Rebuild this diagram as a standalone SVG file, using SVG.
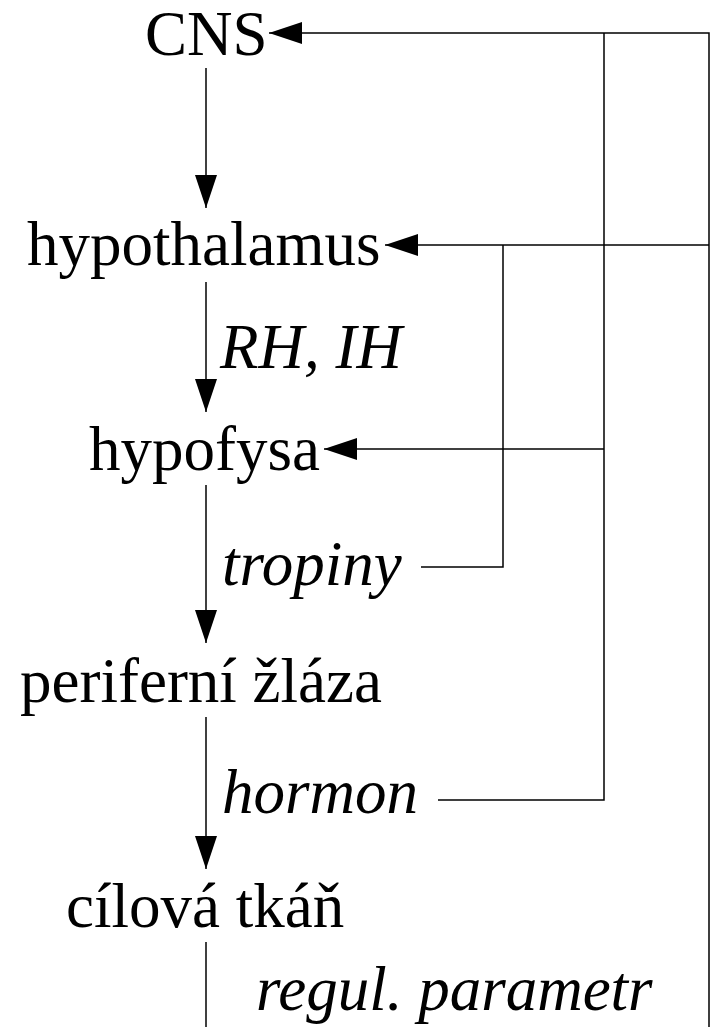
<svg xmlns="http://www.w3.org/2000/svg" width="710" height="1027" viewBox="0 0 710 1027">
<style>
.n{font-family:"Liberation Serif","Times New Roman",serif;font-size:63px;fill:#000}
.l{font-family:"Liberation Serif","Times New Roman",serif;font-size:63px;font-style:italic;fill:#000}
.c{fill:none;stroke:#000;stroke-width:1.5}
</style>
<defs>
<marker id="ah" viewBox="0 0 33 22" markerWidth="33" markerHeight="22" refX="33" refY="11" orient="auto" markerUnits="userSpaceOnUse">
<path d="M0,0 L33,11 L0,22 z" fill="#000"/>
</marker>
</defs>
<rect width="710" height="1027" fill="#fff"/>
<g id="connectors">
<path class="c" d="M206,68 V208" marker-end="url(#ah)"/>
<path class="c" d="M206,282 V412" marker-end="url(#ah)"/>
<path class="c" d="M206,485 V643" marker-end="url(#ah)"/>
<path class="c" d="M206,717 V869" marker-end="url(#ah)"/>
<path class="c" d="M206,942 V1027"/>
<path class="c" d="M709,1027 V33 H269" marker-end="url(#ah)"/>
<path class="c" d="M709,245 H385" marker-end="url(#ah)"/>
<path class="c" d="M438,800 H604 V33"/>
<path class="c" d="M604,449 H324" marker-end="url(#ah)"/>
<path class="c" d="M421,567 H503 V245"/>
</g>
<g id="cns"><text class="n" x="145" y="55">CNS</text></g>
<g id="hypothalamus"><text class="n" x="27" y="265">hypothalamus</text></g>
<g id="label-rhih"><text class="l" x="220" y="368">RH, IH</text></g>
<g id="hypofysa"><text class="n" x="89" y="470">hypofysa</text></g>
<g id="label-tropiny"><text class="l" x="222" y="585">tropiny</text></g>
<g id="periferni-zlaza"><text class="n" x="20" y="702">periferní žláza</text></g>
<g id="label-hormon"><text class="l" x="222" y="813">hormon</text></g>
<g id="cilova-tkan"><text class="n" x="66" y="927">cílová tkáň</text></g>
<g id="label-regul"><text class="l" x="256" y="1010">regul. parametr</text></g>
</svg>
